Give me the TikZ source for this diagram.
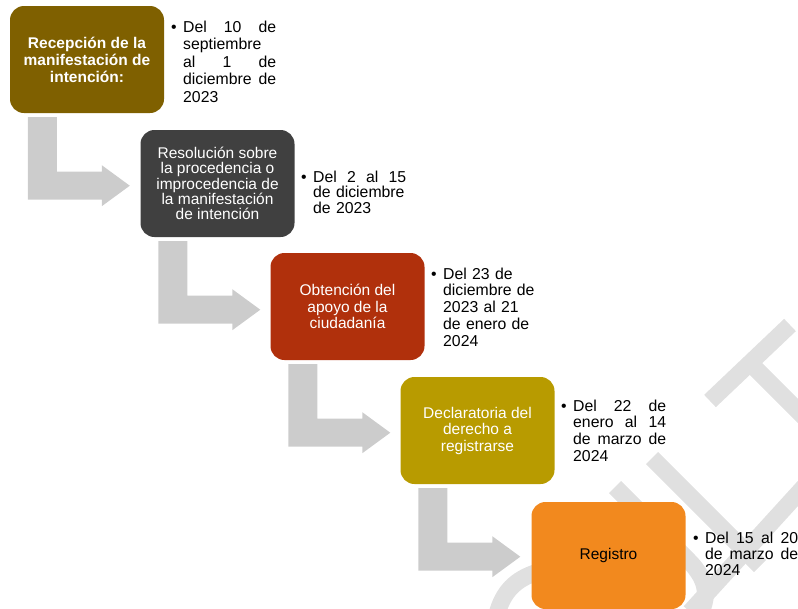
\documentclass[tikz,border=0pt]{standalone}
\usepackage{fontspec}
\setmainfont{Liberation Sans}
\usetikzlibrary{calc}
\definecolor{cA}{RGB}{127,96,0}
\definecolor{cB}{RGB}{64,64,64}
\definecolor{cC}{RGB}{176,48,12}
\definecolor{cD}{RGB}{184,155,0}
\definecolor{cE}{RGB}{242,137,30}
\definecolor{arr}{RGB}{204,204,204}
\definecolor{wm}{RGB}{224,224,224}
\tikzset{
 stage/.style={rectangle, rounded corners=14pt, minimum width=154pt, minimum height=107pt, inner sep=0pt, align=center, text=white},
 datetext/.style={anchor=north west, inner sep=0pt, text width=93pt, align=left},
 wmark/.style={draw=wm, line width=17pt},
}
\newcommand{\bentarrow}[1]{%
 \fill[arr] ($(#1.south west)+(18,4)$) -- ++(29,0) -- ++(0,54.5) -- ++(45,0) -- ++(0,-6.5)
   -- ++(28,20.5) -- ++(-28,20.5) -- ++(0,-6.5) -- ++(-74,0) -- cycle;}
\newcommand{\bul}{\noindent\llap{\textbullet\hspace{6.5pt}}}
\begin{document}
\begin{tikzpicture}[x=1pt,y=-1pt]
\useasboundingbox (0,0) rectangle (798,608);
% watermark
\draw[wmark] (710,401) -- (790,325);
\draw[wmark] (750,363) -- (815,428);
\draw[wmark] (652,458) -- (760,566);
\draw[wmark] (812,478) -- (690,612);
\draw[wmark] (615,487) -- (688,560) .. controls (712,584) and (706,600) .. (700,615);
\draw[wmark] (497,614) .. controls (503,592) and (515,579) .. (538,572);
% stages
\node[stage, fill=cA, font=\fontsize{15.5pt}{17pt}\selectfont\bfseries] (b1) at (87,59.5)
  {Recepción de la\\manifestación de\\intención:};
\node[stage, fill=cB, font=\fontsize{15.5pt}{15.3pt}\selectfont] (b2) at (217.5,183.5)
  {Resolución sobre\\la procedencia o\\improcedencia de\\la manifestación\\de intención};
\node[stage, fill=cC, font=\fontsize{15.5pt}{16.5pt}\selectfont] (b3) at (347.5,306.5)
  {Obtención del\\apoyo de la\\ciudadanía};
\node[stage, fill=cD, font=\fontsize{15.5pt}{16.5pt}\selectfont] (b4) at (477.5,430.5)
  {Declaratoria del\\derecho a\\registrarse};
\node[stage, fill=cE, text=black, font=\fontsize{15.5pt}{16.5pt}\selectfont] (b5) at (608.5,555.5)
  {Registro};
% arrows
\bentarrow{b1}
\bentarrow{b2}
\bentarrow{b3}
\bentarrow{b4}
% dates
\node[datetext, font=\fontsize{15.8pt}{17.5pt}\selectfont] (d1) at (183,20.5)
  {\bul Del\hfill 10\hfill de\\septiembre\\al\hfill 1\hfill de\\diciembre\hfill de\\2023};
\node[datetext, font=\fontsize{15.8pt}{15.8pt}\selectfont] (d2) at (313,170.5)
  {\bul Del\hfill 2\hfill al\hfill 15\\de diciembre\\de 2023};
\node[datetext, font=\fontsize{15.8pt}{16.8pt}\selectfont] (d3) at (443,267.5)
  {\bul Del 23 de\\diciembre de\\2023 al 21\\de enero de\\2024};
\node[datetext, font=\fontsize{15.8pt}{16.7pt}\selectfont] (d4) at (573,399.5)
  {\bul Del\hfill 22\hfill de\\enero\hfill al\hfill 14\\de\hfill marzo\hfill de\\2024};
\node[datetext, font=\fontsize{15.8pt}{16pt}\selectfont] (d5) at (705,531.5)
  {\bul Del\hfill 15\hfill al\hfill 20\\de\hfill marzo\hfill de\\2024};
\end{tikzpicture}
\end{document}
